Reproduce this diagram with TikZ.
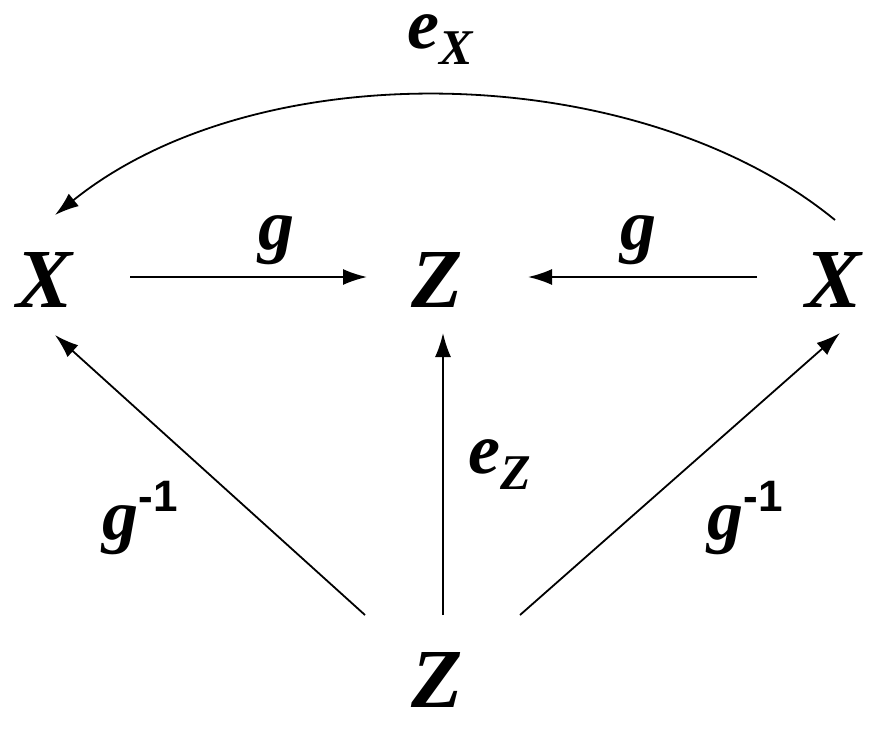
\documentclass[tikz,border=0pt]{standalone}
\usepackage{fontspec}
\setmainfont{Liberation Serif}
\newfontfamily\supfont{Liberation Sans}
\usetikzlibrary{arrows.meta}
\begin{document}
\begin{tikzpicture}[x=1pt,y=-1pt,
  lbl/.style={font=\fontsize{84}{90}\selectfont\bfseries\itshape,inner sep=0},
  sl/.style={font=\fontsize{72}{78}\selectfont\bfseries\itshape,inner sep=0},
  arr/.style={line width=1.8pt,-{Latex[length=24pt,width=16pt]}}]
\useasboundingbox (0,0) rectangle (882,728);
\node[lbl] (X1) at (45,280) {X};
\node[lbl] (Z1) at (437,280) {Z};
\node[lbl] (X2) at (833,280) {X};
\node[lbl] (Z2) at (437,680) {Z};
\coordinate (a1) at (130,277); \coordinate (a2) at (367,277);
\coordinate (b1) at (757,277); \coordinate (b2) at (528,277);
\coordinate (c1) at (443,615); \coordinate (c2) at (443,333);
\coordinate (d1) at (365,615); \coordinate (d2) at (55,335);
\coordinate (f1) at (520,615); \coordinate (f2) at (840,333);
\coordinate (h1) at (835,220); \coordinate (h2) at (55,215);
\draw[arr] (a1) -- (a2);
\draw[arr] (b1) -- (b2);
\draw[arr] (c1) -- (c2);
\draw[arr] (d1) -- (d2);
\draw[arr] (f1) -- (f2);
\draw[arr] (h1) .. controls (640,60) and (260,50) .. (h2);
\node[sl] (g1) at (276,240) {g};
\node[sl] (g2) at (638,240) {g};
\node[sl] (eX) at (440,40) {e\raisebox{-16pt}{\fontsize{50}{54}\selectfont X}};
\node[sl] (eZ) at (500,465) {e\raisebox{-16pt}{\fontsize{50}{54}\selectfont Z}};
\node[sl] (gi1) at (140,518) {g\raisebox{28pt}{\supfont\upshape\fontsize{44}{48}\selectfont -1}};
\node[sl] (gi2) at (745,518) {g\raisebox{28pt}{\supfont\upshape\fontsize{44}{48}\selectfont -1}};
\end{tikzpicture}
\end{document}
